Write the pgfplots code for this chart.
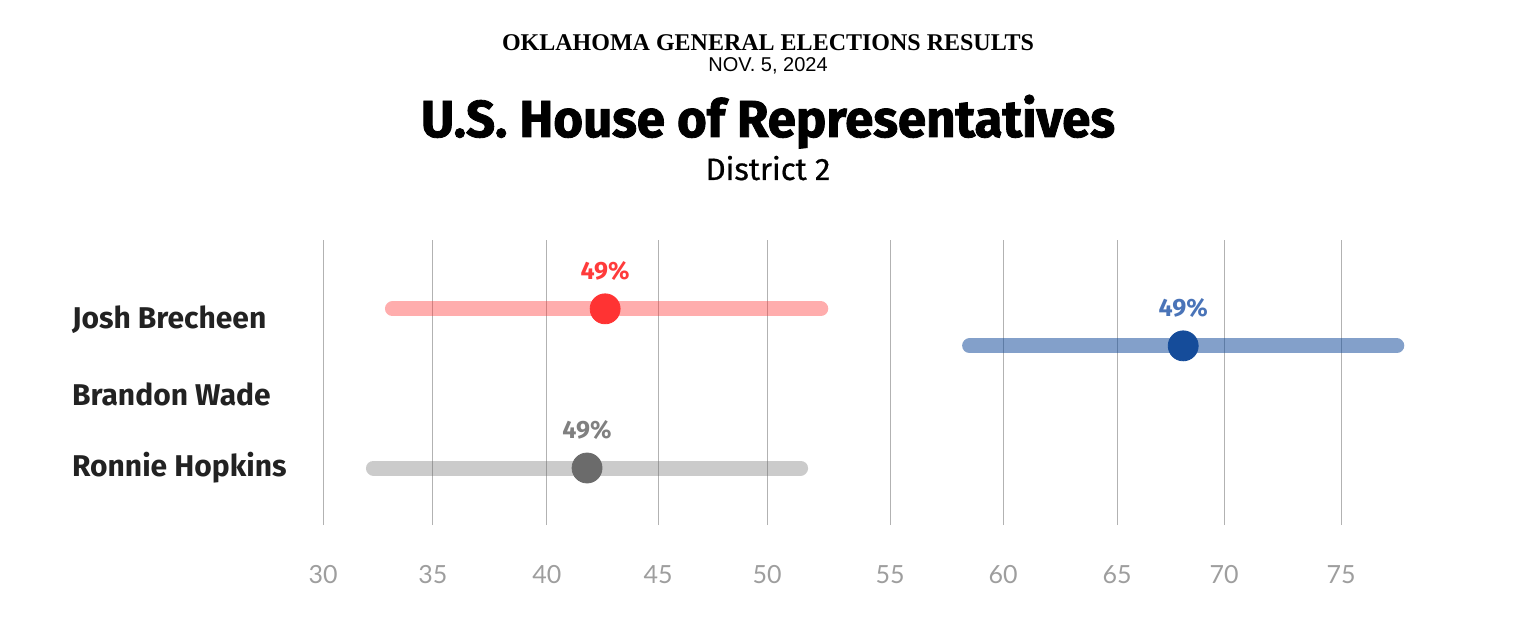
\documentclass[border=0pt]{standalone}
\usepackage{fontspec}
\usepackage{pgfplots}
\pgfplotsset{compat=1.18}
\setmainfont{Fira Sans}
\newfontfamily\serifbold{Liberation Serif}
\newfontfamily\titlefont{Fira Sans}[FakeStretch=0.98, FakeBold=1.6]
\newfontfamily\distf{Fira Sans}[FakeBold=0.6]
\newfontfamily\namef{Fira Sans}
\newfontfamily\datef{Liberation Sans}
\newfontfamily\lightf{Lato}
\definecolor{redline}{HTML}{FF3333}
\definecolor{reddot}{HTML}{FF3333}
\definecolor{redlab}{HTML}{FF3B3B}
\definecolor{blueline}{HTML}{154C9A}
\definecolor{bluedot}{HTML}{154C9A}
\definecolor{bluelab}{HTML}{4A74B8}
\definecolor{grayline}{HTML}{6B6B6B}
\definecolor{graydot}{HTML}{6B6B6B}
\definecolor{graylab}{HTML}{808080}
\definecolor{txt}{HTML}{222222}
\begin{document}
\begin{tikzpicture}
\useasboundingbox (0,0) rectangle (768pt,313.5pt);
\node[anchor=base, inner sep=0] at (384pt,288pt) {\serifbold\bfseries\fontsize{12pt}{13pt}\selectfont OKLAHOMA GENERAL ELECTIONS RESULTS};
\node[anchor=base, inner sep=0] at (384pt,277.5pt) {\datef\fontsize{10pt}{11pt}\selectfont NOV. 5, 2024};
\node[anchor=base, inner sep=0] at (384pt,245pt) {\titlefont\bfseries\fontsize{26pt}{30pt}\selectfont U.S. House of Representatives};
\node[anchor=base, inner sep=0] at (384pt,223.5pt) {\distf\fontsize{15.5pt}{17pt}\selectfont District 2};
\begin{axis}[
  at={(161.5pt,51pt)}, anchor=south west,
  scale only axis, width=543pt, height=142.5pt,
  xmin=30, xmax=78, ymin=0.23, ymax=4.08,
  clip=false,
  axis line style={draw=none},
  major tick length=0pt,
  xtick={30,34.86,39.9,44.81,49.63,55.07,60.06,65.1,69.83,75},
  xticklabels={30,35,40,45,50,55,60,65,70,75},
  xmajorgrids, major grid style={color=black!30, line width=0.5pt},
  xticklabel style={anchor=center, yshift=-25pt, font=\lightf\fontsize{12.5pt}{14pt}\selectfont, text=black!38},
  ytick={1,2,3},
  yticklabels={Ronnie Hopkins,Brandon Wade,Josh Brecheen},
  yticklabel style={anchor=west, xshift=-129pt, font=\namef\bfseries\fontsize{15pt}{17pt}\selectfont, text=txt},
  /pgf/number format/assume math mode=true,
]
% range lines
\addplot[redline, opacity=0.4, line width=7.5pt, line cap=round] coordinates {(33.07,3.15) (52.0,3.15)};
\addplot[blueline, opacity=0.53, line width=7.5pt, line cap=round] coordinates {(58.58,2.65) (77.46,2.65)};
\addplot[grayline, opacity=0.35, line width=7.5pt, line cap=round] coordinates {(32.23,1.0) (51.11,1.0)};
% dots with labels
\addplot[reddot, only marks, mark=*, mark size=7.5pt, mark options={fill=reddot, draw=reddot},
  nodes near coords={49\%}, nodes near coords style={anchor=center, yshift=19pt, text=redlab, font=\bfseries\fontsize{12.5pt}{14pt}\selectfont}]
  coordinates {(42.47,3.15)};
\addplot[bluedot, only marks, mark=*, mark size=7.5pt, mark options={fill=bluedot, draw=bluedot},
  nodes near coords={49\%}, nodes near coords style={anchor=center, yshift=19pt, text=bluelab, font=\bfseries\fontsize{12.5pt}{14pt}\selectfont}]
  coordinates {(68.02,2.65)};
\addplot[graydot, only marks, mark=*, mark size=7.5pt, mark options={fill=graydot, draw=graydot},
  nodes near coords={49\%}, nodes near coords style={anchor=center, yshift=19pt, text=graylab, font=\bfseries\fontsize{12.5pt}{14pt}\selectfont}]
  coordinates {(41.67,1.0)};
\end{axis}
\end{tikzpicture}
\end{document}
